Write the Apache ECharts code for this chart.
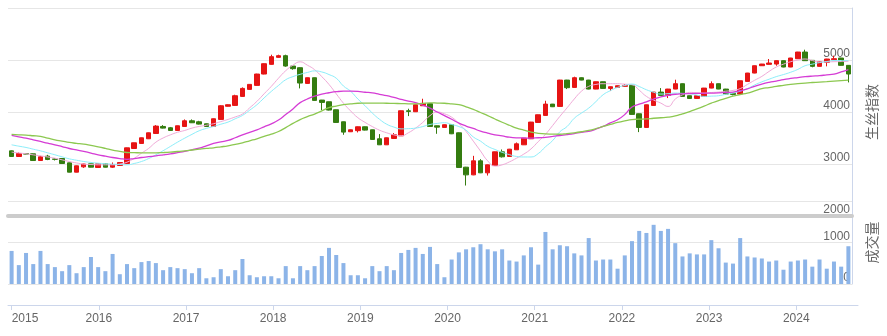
<!DOCTYPE html>
<html><head><meta charset="utf-8">
<script src="https://cdn.jsdelivr.net/npm/echarts@6/dist/echarts.min.js"></script>
<style>html,body{margin:0;padding:0;background:#fff}#c{width:887px;height:336px}</style>
</head><body><div id="c"></div>
<script>
const months = [
'2015-01','2015-02','2015-03','2015-04','2015-05','2015-06','2015-07','2015-08','2015-09','2015-10','2015-11','2015-12',
'2016-01','2016-02','2016-03','2016-04','2016-05','2016-06','2016-07','2016-08','2016-09','2016-10','2016-11','2016-12',
'2017-01','2017-02','2017-03','2017-04','2017-05','2017-06','2017-07','2017-08','2017-09','2017-10','2017-11','2017-12',
'2018-01','2018-02','2018-03','2018-04','2018-05','2018-06','2018-07','2018-08','2018-09','2018-10','2018-11','2018-12',
'2019-01','2019-02','2019-03','2019-04','2019-05','2019-06','2019-07','2019-08','2019-09','2019-10','2019-11','2019-12',
'2020-01','2020-02','2020-03','2020-04','2020-05','2020-06','2020-07','2020-08','2020-09','2020-10','2020-11','2020-12',
'2021-01','2021-02','2021-03','2021-04','2021-05','2021-06','2021-07','2021-08','2021-09','2021-10','2021-11','2021-12',
'2022-01','2022-02','2022-03','2022-04','2022-05','2022-06','2022-07','2022-08','2022-09','2022-10','2022-11','2022-12',
'2023-01','2023-02','2023-03','2023-04','2023-05','2023-06','2023-07','2023-08','2023-09','2023-10','2023-11','2023-12',
'2024-01','2024-02','2024-03','2024-04','2024-05','2024-06','2024-07','2024-08','2024-09'];

const open = [3253,3144,3200,3196,3067,3151,3097,3106,3022,2843,2945,3003,2933,3003,2939,2971,3009,3298,3395,3485,3587,3722,3697,3645,
3722,3831,3812,3773,3722,3857,4110,4127,4300,4435,4512,4730,4916,5051,5083,4884,4852,4550,4659,4229,4197,4043,3812,3620,
3641,3716,3658,3485,3369,3491,3542,4024,4005,4120,4159,3735,3703,3755,3600,2939,2791,3061,2830,2971,3234,3144,3273,3369,
3485,3799,3934,4152,4107,4614,4473,4659,4614,4441,4582,4454,4473,4493,4512,3966,3703,4126,4383,4319,4441,4544,4313,4261,
4300,4460,4544,4441,4357,4345,4588,4749,4890,4916,4922,4987,4865,5025,5153,4993,4878,4955,5006,5038,4897];
const close = [3144,3202,3190,3067,3138,3087,3090,3010,2843,2965,3000,2939,3003,2939,2990,3029,3311,3408,3504,3600,3729,3690,3645,3735,
3831,3793,3767,3722,3870,4120,4140,4313,4454,4531,4730,4929,5064,5083,4884,4833,4557,4659,4223,4184,4037,3799,3613,3658,
3716,3652,3472,3369,3504,3562,4024,4011,4139,4165,3722,3709,3755,3581,2933,2791,3061,2830,2984,3234,3138,3285,3388,3497,
3806,3947,4152,4101,4614,4467,4659,4614,4441,4582,4454,4486,4505,4512,3954,3703,4139,4383,4319,4441,4544,4300,4261,4313,
4460,4544,4441,4345,4338,4601,4749,4890,4922,4942,4987,4865,5038,5153,4987,4878,4967,5019,5025,4897,4730];
const low = [3140,3138,3185,3060,3061,3074,3068,3005,2840,2840,2926,2935,2930,2935,2926,2968,3000,3295,3390,3480,3585,3684,3640,3640,
3720,3788,3760,3718,3718,3850,4105,4120,4295,4430,4510,4725,4910,5045,4871,4814,4454,4545,4218,4037,4030,3795,3562,3615,
3607,3645,3465,3365,3365,3488,3540,3921,4000,4118,3718,3581,3700,3575,2928,2586,2785,2825,2778,2968,3125,3140,3270,3365,
3480,3795,3930,4095,4100,4441,4470,4610,4436,4438,4450,4403,4470,4490,3950,3613,3700,4122,4315,4268,4438,4296,4255,4258,
4296,4456,4438,4340,4320,4340,4585,4745,4887,4912,4890,4860,4862,5022,4982,4860,4875,4878,5003,4893,4569];
const high = [3260,3221,3205,3200,3157,3176,3112,3110,3025,2970,3005,3005,3005,3005,3029,3032,3315,3410,3508,3605,3748,3748,3712,3738,
3857,3857,3830,3778,3875,4130,4145,4332,4473,4535,4735,4935,5102,5102,5102,4890,4858,4662,4662,4232,4200,4046,3815,3662,
3720,3720,3660,3575,3508,3595,4028,4063,4142,4255,4162,3740,3760,3760,3605,2945,3157,3093,2990,3238,3279,3290,3414,3500,
3810,3950,4216,4155,4618,4618,4679,4665,4618,4585,4585,4490,4510,4537,4515,3970,4142,4386,4460,4445,4621,4548,4316,4316,
4463,4589,4548,4445,4362,4605,4752,4893,4925,5019,4990,4990,5041,5156,5198,4996,4970,5022,5083,5041,4900];
const volume = [797,455,748,480,797,480,407,309,455,260,407,650,407,309,724,236,480,382,528,553,504,333,407,382,
358,260,382,138,163,358,187,333,602,211,163,187,187,138,431,138,431,333,431,675,870,699,504,211,
211,138,431,309,431,333,748,821,870,724,894,480,163,590,762,836,885,959,836,787,836,566,541,689,
885,467,1254,836,934,910,738,689,1107,566,590,590,369,689,1033,1279,1230,1426,1279,1328,984,664,738,713,
713,1057,861,516,492,1107,664,639,615,541,566,344,541,566,590,418,590,369,541,418,910];
const ma5 = [3228,3212,3196,3176,3157,3135,3112,3080,3048,3020,2997,2990,2984,2984,2984,3000,3035,3110,3208,3300,3420,3500,3560,3610,
3645,3690,3722,3745,3775,3815,3857,3905,3960,4080,4204,4350,4493,4650,4794,4900,4965,4900,4814,4680,4530,4350,4170,4020,
3890,3800,3720,3650,3600,3560,3543,3600,3690,3800,3930,4000,3965,3900,3780,3626,3440,3250,3060,2960,2984,3040,3112,3190,
3290,3430,3570,3740,3915,4080,4250,4400,4493,4530,4544,4544,4544,4535,4525,4420,4300,4230,4171,4107,4248,4330,4377,4370,
4364,4375,4383,4400,4415,4450,4530,4610,4685,4780,4865,4920,4967,5000,5019,4990,4961,4964,4967,4970,4974];
const ma10 = [3369,3343,3318,3285,3253,3215,3177,3138,3099,3073,3048,3030,3016,3005,2997,2990,2984,3010,3048,3105,3177,3255,3337,3420,
3497,3570,3639,3685,3722,3765,3806,3870,3934,4035,4139,4270,4396,4510,4621,4680,4725,4760,4790,4770,4720,4650,4500,4400,
4250,4120,3980,3860,3765,3710,3675,3680,3690,3720,3760,3780,3795,3760,3720,3650,3520,3440,3340,3280,3225,3180,3145,3135,
3135,3200,3330,3450,3620,3720,3880,3980,4075,4200,4332,4410,4473,4510,4537,4490,4428,4380,4345,4352,4364,4358,4351,4325,
4300,4305,4313,4340,4364,4400,4450,4520,4580,4630,4680,4720,4765,4820,4890,4920,4950,4970,4990,4990,4987];
const ma20 = [3549,3523,3497,3465,3433,3400,3369,3334,3298,3270,3241,3210,3177,3150,3125,3105,3090,3105,3125,3140,3157,3176,3196,3218,
3241,3272,3305,3350,3395,3425,3452,3505,3562,3610,3658,3715,3773,3845,3950,4060,4180,4250,4305,4345,4370,4390,4400,4400,
4396,4380,4368,4340,4313,4280,4245,4210,4180,4130,4075,4000,3930,3860,3787,3730,3683,3630,3594,3560,3540,3515,3503,3500,
3497,3505,3513,3530,3548,3565,3585,3610,3626,3670,3722,3790,3850,3950,4095,4150,4194,4250,4293,4320,4341,4350,4355,4358,
4360,4363,4367,4375,4383,4410,4445,4495,4537,4570,4595,4622,4647,4663,4679,4690,4698,4715,4730,4770,4814];
const ma30 = [3568,3562,3555,3543,3530,3498,3465,3440,3414,3398,3382,3357,3331,3300,3266,3243,3221,3218,3215,3215,3215,3220,3228,3240,
3253,3269,3285,3300,3312,3330,3350,3378,3407,3446,3485,3530,3574,3625,3700,3780,3855,3910,3960,4020,4085,4115,4140,4155,
4168,4170,4172,4170,4168,4165,4162,4158,4155,4165,4175,4172,4168,4155,4140,4100,4052,3990,3930,3865,3803,3745,3690,3650,
3613,3590,3578,3575,3572,3585,3600,3620,3645,3680,3722,3760,3799,3830,3855,3862,3866,3880,3889,3900,3924,3965,4008,4060,
4114,4170,4220,4260,4303,4335,4364,4405,4448,4470,4493,4512,4531,4545,4557,4567,4576,4585,4595,4605,4614];
const priceTicks = [2000, 6000, 1000];
const volumeTicks = [0, 2000, 1000];

const candles = months.map((m, i) => [open[i], close[i], low[i], high[i]]);
const isJan = (idx) => months[idx].endsWith('-01');
const FONT = '"Liberation Sans", Arial, sans-serif';
const CJK = '"Noto Sans CJK SC", sans-serif';
const plain = (v) => String(v);

const chart = echarts.init(document.getElementById('c'), null, {renderer: 'canvas'});
chart.setOption({
  animation: false,
  backgroundColor: '#ffffff',
  grid: [
    {left: 8, right: 29, top: 8, height: 208},
    {left: 8, right: 29, top: 201, height: 83},
    {left: 8, right: 29, top: 284, height: 21}
  ],
  xAxis: [
    {type: 'category', gridIndex: 0, data: months, boundaryGap: true,
     axisLine: {lineStyle: {color: '#cccccc', width: 4}},
     axisTick: {show: false}, axisLabel: {show: false}, splitLine: {show: false}},
    {type: 'category', gridIndex: 1, data: months, boundaryGap: true,
     axisLine: {show: false}, axisTick: {show: false}, axisLabel: {show: false}, splitLine: {show: false}},
    {type: 'category', gridIndex: 2, data: months, boundaryGap: true, position: 'bottom',
     axisLine: {lineStyle: {color: '#ccd6eb', width: 1}},
     axisTick: {show: true, alignWithLabel: true, length: 5, interval: (idx) => isJan(idx), lineStyle: {color: '#ccd6eb'}},
     axisLabel: {interval: (idx) => isJan(idx), formatter: (v) => v.slice(0, 4), alignMinLabel: 'left',
                 color: '#666666', fontSize: 12, fontFamily: FONT, margin: 8},
     splitLine: {show: false}}
  ],
  yAxis: [
    {type: 'value', gridIndex: 0, position: 'right', min: priceTicks[0], max: priceTicks[1], interval: priceTicks[2],
     name: '生丝指数', nameLocation: 'middle', nameGap: 13,
     nameTextStyle: {color: '#666666', fontSize: 14, fontFamily: CJK},
     axisLine: {show: true, lineStyle: {color: '#ccd6eb'}}, axisTick: {show: false},
     axisLabel: {inside: true, showMaxLabel: false, verticalAlign: 'bottom', margin: 2, formatter: plain,
                 color: '#666666', fontSize: 12, fontFamily: FONT},
     splitLine: {lineStyle: {color: '#e6e6e6'}}},
    {type: 'value', gridIndex: 1, position: 'right', min: volumeTicks[0], max: volumeTicks[1], interval: volumeTicks[2],
     name: '成交量', nameLocation: 'middle', nameGap: 13,
     nameTextStyle: {color: '#666666', fontSize: 14, fontFamily: CJK},
     axisLine: {show: true, lineStyle: {color: '#ccd6eb'}}, axisTick: {show: false},
     axisLabel: {inside: true, showMaxLabel: false, verticalAlign: 'bottom', margin: 2, formatter: plain,
                 color: '#666666', fontSize: 12, fontFamily: FONT},
     splitLine: {lineStyle: {color: '#e6e6e6'}}},
    {type: 'value', gridIndex: 2, show: false, min: 0, max: 1, splitLine: {show: false}}
  ],
  series: [
    {type: 'candlestick', xAxisIndex: 0, yAxisIndex: 0, data: candles, barWidth: 5,
     itemStyle: {color: '#e61414', color0: '#347c10', borderColor: '#e61414', borderColor0: '#347c10', borderWidth: 1}},
    {type: 'line', xAxisIndex: 0, yAxisIndex: 0, data: ma5, smooth: true, symbol: 'none', lineStyle: {color: '#f0aad8', width: 1}},
    {type: 'line', xAxisIndex: 0, yAxisIndex: 0, data: ma10, smooth: true, symbol: 'none', lineStyle: {color: '#8ceefa', width: 1}},
    {type: 'line', xAxisIndex: 0, yAxisIndex: 0, data: ma20, smooth: true, symbol: 'none', lineStyle: {color: '#d53cd5', width: 1.3}},
    {type: 'line', xAxisIndex: 0, yAxisIndex: 0, data: ma30, smooth: true, symbol: 'none', lineStyle: {color: '#8cc850', width: 1.3}},
    {type: 'bar', xAxisIndex: 1, yAxisIndex: 1, data: volume, barWidth: 4, itemStyle: {color: '#8cb4e8'}}
  ]
});
</script></body></html>
